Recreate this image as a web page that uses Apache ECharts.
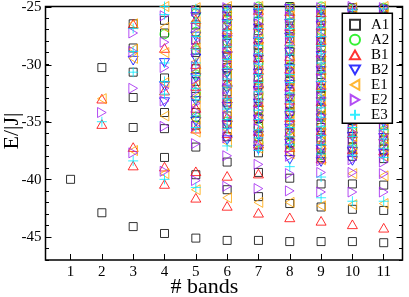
<!DOCTYPE html>
<html>
<head>
<meta charset="utf-8">
<script src="https://cdn.jsdelivr.net/npm/echarts@6/dist/echarts.min.js"></script>
<style>html,body{margin:0;padding:0;background:#fff}#c{width:409px;height:297px}</style>
</head>
<body>
<div id="c"></div>
<script>
// ---- data: energies per number of bands (index 0 -> 1 band, ..., index 10 -> 11 bands)
const bands = [1, 2, 3, 4, 5, 6, 7, 8, 9, 10, 11];
const xTickLabels = ['1','2','3','4','5','6','7','8','9','10','11'];
const yTickLabels = ['-45','-40','-35','-30','-25'];

const A1 = [
  [-40.0],
  [-30.3, -42.9],
  [-26.5, -28.6, -30.7, -32.9, -35.5, -44.1],
  [-26.2, -27.3, -31.2, -34.2, -35.6, -38.1, -44.7],
  [-25.3, -26.6, -27.9, -29.0, -30.4, -31.5, -32.8, -34.2, -35.3, -37.2, -39.6, -45.1],
  [-25.2, -26.1, -27.3, -28.2, -29.4, -30.3, -31.1, -32.4, -33.3, -34.5, -35.2, -36.3, -38.5, -40.9, -45.3],
  [-25.2, -26.3, -27.1, -28.4, -29.0, -30.1, -31.2, -31.8, -33.0, -33.9, -34.7, -35.4, -36.3, -37.7, -39.4, -41.5, -45.3],
  [-25.0, -26.0, -26.9, -27.8, -28.9, -29.6, -30.7, -31.5, -32.4, -33.5, -34.1, -35.2, -36.0, -36.8, -37.6, -39.9, -42.1, -45.4],
  [-25.3, -26.2, -27.4, -28.1, -29.2, -30.0, -30.9, -32.1, -32.7, -33.8, -34.6, -35.5, -36.4, -37.3, -38.1, -40.4, -42.4, -45.4],
  [-25.1, -26.4, -27.2, -28.3, -29.0, -30.3, -31.0, -32.2, -33.1, -33.7, -34.9, -35.6, -36.5, -37.2, -38.0, -40.4, -42.6, -45.4],
  [-25.2, -26.1, -27.3, -28.0, -29.1, -30.2, -30.8, -31.9, -33.0, -33.6, -34.7, -35.3, -36.6, -37.4, -38.2, -40.5, -42.7, -45.5]
];
const A2 = [
  [],
  [],
  [],
  [-27.4],
  [-25.6, -27.2, -28.8, -30.9, -32.5, -34.6],
  [-25.5, -26.7, -28.0, -29.2, -30.6, -31.9, -33.5, -35.0],
  [-25.0, -26.2, -27.5, -28.6, -29.9, -31.4, -32.6, -34.0, -35.5, -36.8],
  [-25.1, -26.4, -27.3, -28.8, -30.2, -31.3, -32.9, -34.3, -35.7, -37.0],
  [-25.0, -25.9, -27.1, -28.5, -29.7, -31.1, -32.4, -33.9, -35.2, -36.7, -37.9],
  [-25.2, -26.5, -27.8, -29.3, -30.6, -31.7, -33.2, -34.4, -35.9, -37.3],
  [-25.1, -26.3, -27.6, -28.9, -30.4, -31.6, -33.0, -34.5, -35.8, -37.1]
];
const B1 = [
  [],
  [-33.0, -35.2],
  [-26.5, -37.2, -38.8],
  [-28.6, -32.3, -38.9, -40.4],
  [-26.1, -28.3, -30.0, -31.9, -33.8, -35.6, -39.3, -41.6],
  [-25.8, -27.0, -28.6, -30.1, -31.6, -33.0, -34.6, -36.0, -39.7, -42.3],
  [-25.3, -26.6, -27.8, -29.4, -30.5, -31.7, -33.3, -34.5, -35.8, -36.9, -39.5, -42.9],
  [-25.4, -26.7, -28.0, -29.3, -30.4, -31.9, -33.1, -34.6, -35.9, -37.2, -43.3],
  [-25.5, -26.6, -27.9, -29.0, -30.5, -31.8, -33.2, -34.4, -35.8, -37.0, -38.2, -43.6],
  [-25.3, -26.9, -28.1, -29.5, -30.8, -32.0, -33.4, -34.7, -36.0, -37.4, -43.9],
  [-25.4, -26.8, -28.2, -29.6, -30.7, -32.1, -33.4, -34.8, -36.2, -37.5, -44.2]
];
const B2 = [
  [],
  [],
  [-29.7],
  [-29.9, -31.9, -33.3],
  [-25.9, -27.6, -29.5, -31.2, -33.2, -35.0],
  [-25.4, -26.5, -27.9, -29.3, -30.8, -32.2, -33.7, -35.3, -36.6],
  [-25.6, -26.9, -28.1, -29.6, -30.8, -32.3, -33.4, -34.8, -36.2, -37.4],
  [-25.2, -26.5, -27.7, -29.0, -30.4, -31.8, -33.0, -34.5, -35.6, -36.9, -38.3],
  [-25.4, -26.7, -28.0, -29.3, -30.6, -31.9, -33.3, -34.7, -36.0, -37.4, -38.5],
  [-25.6, -26.9, -28.4, -29.7, -31.0, -32.4, -33.7, -35.0, -36.3, -37.6, -38.4],
  [-25.3, -26.6, -28.0, -29.4, -30.9, -32.3, -33.8, -35.1, -36.4, -37.8]
];
const E1 = [
  [],
  [-33.0],
  [-26.5, -28.7, -29.5, -37.5],
  [-25.0, -26.8, -29.0, -31.6, -34.5, -39.5],
  [-25.1, -26.3, -27.4, -28.6, -29.8, -30.7, -31.8, -32.9, -33.6, -34.8, -35.9, -40.9],
  [-25.0, -25.8, -26.4, -27.3, -27.9, -28.8, -29.5, -30.1, -31.0, -31.9, -32.5, -33.4, -34.1, -35.0, -35.7, -36.8, -41.6],
  [-25.0, -25.6, -26.4, -27.0, -27.9, -28.5, -29.2, -30.0, -30.6, -31.5, -32.2, -32.9, -33.7, -34.3, -35.1, -35.9, -36.5, -37.3, -42.0],
  [-25.1, -25.7, -26.3, -27.1, -27.7, -28.5, -29.3, -29.9, -30.7, -31.4, -32.0, -32.8, -33.6, -34.2, -35.0, -35.6, -36.4, -37.1, -37.8, -42.0],
  [-25.0, -25.6, -26.5, -27.2, -27.8, -28.6, -29.4, -30.1, -30.8, -31.6, -32.3, -33.0, -33.9, -34.4, -35.3, -36.0, -36.8, -37.5, -38.3, -42.3],
  [-25.1, -25.8, -26.6, -27.3, -28.0, -28.8, -29.6, -30.4, -31.1, -31.8, -32.6, -33.3, -34.0, -34.9, -35.5, -36.3, -37.0, -37.8, -39.5, -42.2],
  [-25.0, -25.7, -26.5, -27.4, -28.1, -28.9, -29.5, -30.3, -31.2, -31.9, -32.7, -33.5, -34.2, -34.9, -35.7, -36.5, -37.2, -38.0, -39.7, -42.1]
];
const E2 = [
  [],
  [-34.2],
  [-27.3, -28.9, -32.1, -37.7],
  [-25.8, -28.1, -30.3, -32.1, -33.2, -35.4, -39.3],
  [-25.4, -26.8, -27.9, -28.9, -30.2, -31.3, -32.3, -33.4, -34.1, -35.4, -36.9, -40.1],
  [-25.1, -25.9, -26.6, -27.5, -28.3, -29.0, -29.8, -30.5, -31.4, -32.1, -32.9, -33.8, -34.6, -35.5, -36.4, -37.95, -40.6],
  [-25.1, -25.8, -26.5, -27.3, -28.0, -28.8, -29.5, -30.3, -31.1, -31.8, -32.5, -33.4, -34.1, -34.9, -35.6, -36.4, -37.1, -38.7, -40.8],
  [-25.2, -25.9, -26.7, -27.4, -28.2, -28.9, -29.7, -30.5, -31.2, -32.0, -32.7, -33.5, -34.3, -35.0, -35.8, -36.6, -37.3, -38.0, -39.5, -41.0],
  [-25.1, -25.8, -26.6, -27.5, -28.3, -29.0, -29.8, -30.6, -31.3, -32.2, -32.9, -33.6, -34.5, -35.2, -36.1, -36.7, -37.6, -38.4, -39.4, -41.1],
  [-25.0, -25.7, -26.4, -27.2, -28.1, -28.9, -29.7, -30.5, -31.2, -32.0, -32.9, -33.6, -34.4, -35.2, -35.9, -36.8, -37.5, -38.3, -39.4, -41.1],
  [-25.1, -25.9, -26.7, -27.5, -28.3, -29.2, -30.0, -30.7, -31.5, -32.3, -33.1, -33.9, -34.6, -35.4, -36.2, -37.0, -37.7, -38.5, -39.5, -41.1]
];
const E3 = [
  [],
  [-35.0],
  [-26.9, -28.9, -30.7, -38.4],
  [-25.0, -25.7, -29.9, -31.5, -32.6, -40.0],
  [-25.2, -26.4, -27.6, -28.7, -29.9, -31.0, -32.1, -33.1, -34.5, -35.5, -40.7],
  [-25.3, -26.2, -27.1, -27.8, -28.5, -29.6, -30.4, -31.3, -32.0, -33.0, -33.9, -34.8, -35.6, -37.1],
  [-25.2, -26.0, -26.9, -27.7, -28.4, -29.1, -30.0, -30.9, -31.6, -32.4, -33.2, -34.0, -34.8, -35.7, -36.4, -37.5],
  [-25.3, -26.1, -26.9, -27.6, -28.4, -29.2, -30.1, -30.9, -31.6, -32.5, -33.3, -34.0, -34.8, -35.5, -36.3, -37.0, -38.9],
  [-25.2, -26.0, -26.8, -27.6, -28.4, -29.1, -29.9, -30.7, -31.5, -32.3, -33.1, -33.8, -34.6, -35.4, -36.2, -37.0, -37.8, -39.8, -41.6],
  [-25.3, -26.1, -26.9, -27.7, -28.5, -29.3, -30.1, -30.8, -31.6, -32.4, -33.2, -34.0, -34.7, -35.5, -36.3, -37.1, -37.9, -41.9],
  [-25.2, -26.0, -26.8, -27.7, -28.5, -29.3, -30.1, -30.9, -31.7, -32.5, -33.3, -34.1, -34.9, -35.7, -36.5, -37.3, -38.1, -41.9]
];

const seriesNames = ['A1', 'A2', 'B1', 'B2', 'E1', 'E2', 'E3'];
const seriesValues = [A1, A2, B1, B2, E1, E2, E3];

// ---- styles
const colors = ['#000000', '#00ee00', '#ff0000', '#0000ff', '#ffa500', '#a020f0', '#00e8ff'];
const symbols = [
  'path://M0,0L10,0L10,10L0,10Z',
  'circle',
  'path://M5,0L10,8.66L0,8.66Z',
  'path://M0,0L10,0L5,8.66Z',
  'path://M0,5L8.66,0L8.66,10Z',
  'path://M8.66,5L0,0L0,10Z',
  'path://M5,0L5,10M0,5L10,5'
];
const sizes = [8, 9, 10, 10, 10, 10, 10];

const FONT = '"Liberation Serif", "Times New Roman", serif';
const W = 409, H = 297;
const GL = 45.5, GR = 6.5, GT = 6.5, GB = 37;
const XMIN = 0.2, XMAX = 11.6, YMIN = -47, YMAX = -25;
const pw = W - GL - GR, ph = H - GT - GB;
const xpx = v => GL + (v - XMIN) / (XMAX - XMIN) * pw;
const ypx = v => GT + (YMAX - v) / (YMAX - YMIN) * ph;

const chart = echarts.init(document.getElementById('c'), null, {renderer: 'canvas'});

const series = seriesNames.map((name, i) => {
  const data = [];
  seriesValues[i].forEach((vals, bi) => vals.forEach(v => data.push([bands[bi], v])));
  return {
    name, type: 'scatter', xAxisIndex: 0, yAxisIndex: 0,
    symbol: symbols[i], symbolSize: sizes[i], symbolKeepAspect: true,
    itemStyle: {color: 'rgba(0,0,0,0)', borderColor: colors[i], borderWidth: 1},
    emphasis: {disabled: true},
    data, animation: false, clip: true
  };
});

const tickStyle = {color: '#000', width: 1};

chart.setOption({
  animation: false,
  backgroundColor: '#fff',
  grid: [
    {left: GL, right: GR, top: GT, bottom: GB, show: true, borderColor: '#000', borderWidth: 1.5, backgroundColor: 'rgba(0,0,0,0)'},
    {left: xpx(1), right: W - xpx(11), top: GT, bottom: GB},
    {left: GL, right: GR, top: GT, bottom: H - ypx(-45)}
  ],
  xAxis: [
    {gridIndex: 0, type: 'value', min: XMIN, max: XMAX, axisLine: {show: false}, axisTick: {show: false}, axisLabel: {show: false}, splitLine: {show: false}},
    {gridIndex: 1, type: 'value', min: 1, max: 11, interval: 1, axisLine: {show: false},
      axisTick: {show: true, inside: true, length: 6, lineStyle: tickStyle},
      axisLabel: {show: true, margin: 5, fontFamily: FONT, fontSize: 15, color: '#000', formatter: v => xTickLabels[v - 1]},
      splitLine: {show: false}},
    {gridIndex: 2, type: 'value', min: 0, max: 1, show: false}
  ],
  yAxis: [
    {gridIndex: 0, type: 'value', min: YMIN, max: YMAX, interval: 1, position: 'left', axisLine: {show: false},
      axisTick: {show: true, inside: true, length: 3.5, lineStyle: tickStyle}, axisLabel: {show: false}, splitLine: {show: false}},
    {gridIndex: 0, type: 'value', min: YMIN, max: YMAX, interval: 1, position: 'right', axisLine: {show: false},
      axisTick: {show: true, inside: true, length: 3.5, lineStyle: tickStyle}, axisLabel: {show: false}, splitLine: {show: false}},
    {gridIndex: 1, type: 'value', min: 0, max: 1, show: false},
    {gridIndex: 2, type: 'value', min: -45, max: -25, interval: 5, position: 'left', axisLine: {show: false},
      axisTick: {show: true, inside: true, length: 6, lineStyle: tickStyle},
      axisLabel: {show: true, margin: 4, fontFamily: FONT, fontSize: 15, color: '#000', formatter: v => yTickLabels[(v + 45) / 5]},
      splitLine: {show: false}},
    {gridIndex: 2, type: 'value', min: -45, max: -25, interval: 5, position: 'right', axisLine: {show: false},
      axisTick: {show: true, inside: true, length: 6, lineStyle: tickStyle}, axisLabel: {show: false}, splitLine: {show: false}}
  ],
  legend: {
    show: true, orient: 'vertical', left: 342.3, top: 13.3,
    itemWidth: 10, itemHeight: 10, itemGap: 0, symbolKeepAspect: true,
    padding: [4, 3, 1, 6.7],
    backgroundColor: '#fff', borderColor: '#000', borderWidth: 1.5, borderRadius: 0,
    textStyle: {fontFamily: FONT, fontSize: 15, color: '#000', lineHeight: 14.8, padding: [0, 0, 0, 6]},
    selectedMode: false,
    data: seriesNames
  },
  graphic: [
    {type: 'text', left: 'center', style: {text: '# bands', fontFamily: FONT, fontSize: 22, fill: '#000'}, top: 276},
    {type: 'text', rotation: Math.PI / 2, x: 12.5, y: 131, style: {text: 'E/|J|', fontFamily: FONT, fontSize: 22, fill: '#000', textAlign: 'center', textVerticalAlign: 'middle'}}
  ],
  series
});
</script>
</body>
</html>
